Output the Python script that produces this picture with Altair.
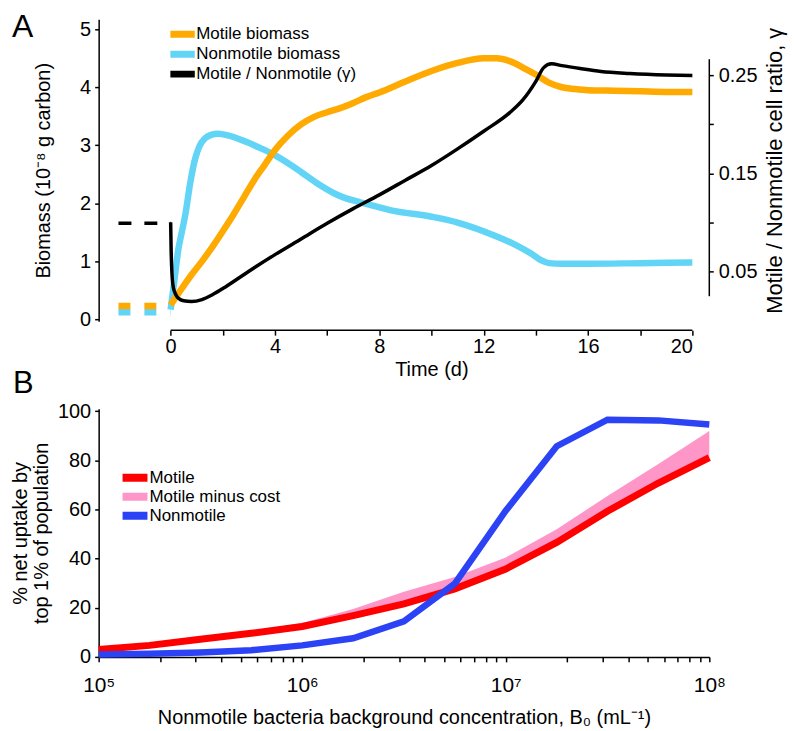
import altair as alt
import pandas as pd

FONT = "Liberation Sans"

# ---------------- Panel A data ----------------
t_motile = [0.0, 0.25, 0.5, 0.8, 1.2, 1.6, 2.0, 2.4, 2.8, 3.2, 3.6, 4.0, 4.5, 5.0, 5.5, 6.0, 6.5, 7.0,
            7.5, 8.0, 9.0, 10.0, 11.0, 12.0, 12.5, 13.0, 13.5, 14.0, 14.5, 15.0, 15.5, 16.0, 17.0, 18.0,
            19.0, 20.0]
motile = [0.25, 0.42, 0.58, 0.77, 1.0, 1.25, 1.52, 1.80, 2.10, 2.40, 2.66, 2.92, 3.17, 3.36, 3.49, 3.57,
          3.64, 3.73, 3.83, 3.91, 4.10, 4.28, 4.42, 4.50, 4.50, 4.45, 4.34, 4.22, 4.08, 4.00, 3.97, 3.95,
          3.94, 3.93, 3.92, 3.92]

t_nonmotile = [0.0, 0.15, 0.3, 0.43, 0.56, 0.75, 0.94, 1.1, 1.32, 1.55, 1.83, 2.2, 2.72, 3.3, 3.87, 4.4,
               5.0, 5.6, 6.28, 6.7, 7.18, 8.45, 10.0, 11.0, 12.5, 13.2, 13.8, 14.2, 14.5, 15.0, 16.0,
               18.0, 20.0]
nonmotile = [0.17, 0.7, 1.22, 1.51, 1.80, 2.35, 2.77, 2.98, 3.12, 3.18, 3.20, 3.17, 3.09, 2.98, 2.86,
             2.72, 2.54, 2.35, 2.17, 2.09, 2.03, 1.88, 1.77, 1.67, 1.43, 1.29, 1.14, 1.02, 0.97, 0.96,
             0.96, 0.97, 0.98]

t_ratio = [0.0, 0.02, 0.05, 0.1, 0.2, 0.3, 0.5, 0.8, 1.2, 1.6, 2.1, 3.0, 4.0, 5.0, 6.0, 7.0, 8.0, 9.0,
           10.0, 11.0, 12.0, 13.0, 13.5, 14.0, 14.3, 14.6, 15.0, 15.7, 16.5, 17.6, 19.0, 20.0]
ratio = [0.100, 0.07, 0.048, 0.034, 0.026, 0.0224, 0.0198, 0.019, 0.021, 0.026, 0.034, 0.050, 0.067,
         0.083, 0.099, 0.114, 0.128, 0.143, 0.158, 0.175, 0.193, 0.212, 0.225, 0.244, 0.258, 0.262,
         0.260, 0.257, 0.254, 0.252, 0.2505, 0.250]

# initial (pre-inoculation) dashed levels
t_pre = [-2.0, 0.0]
motile_pre = [0.23, 0.23]
nonmotile_pre = [0.125, 0.125]
ratio_pre = [0.099, 0.099]

names_A = ["Motile biomass", "Nonmotile biomass", "Motile / Nonmotile (γ)"]
colors_A = ["#FFAA00", "#62D5F6", "#000000"]

time_ticks = [0, 2, 4, 6, 8, 10, 12, 14, 16, 18, 20]
time_axis_span = [0.0, 20.0]
biomass_ticks = [0, 1, 2, 3, 4, 5]
ratio_ticks = [0.05, 0.10, 0.15, 0.20, 0.25]
ratio_axis_span = [0.0245, 0.2666]

# ---------------- Panel B data ----------------
B0 = [1.0e5, 1.78e5, 3.16e5, 5.62e5, 1.0e6, 1.78e6, 3.16e6, 5.62e6, 1.0e7, 1.78e7, 3.16e7, 5.62e7, 1.0e8]
uptake_motile = [3.0, 4.7, 7.2, 9.6, 12.4, 16.8, 21.6, 27.7, 35.8, 46.6, 59.3, 70.8, 81.1]
uptake_motile_cost = [3.5, 5.0, 7.6, 10.5, 13.8, 19.5, 26.5, 32.5, 40.5, 52.0, 65.5, 78.5, 92.0]
uptake_nonmotile = [1.0, 1.3, 1.8, 2.7, 4.7, 7.6, 14.5, 29.8, 59.5, 85.8, 96.6, 96.3, 94.6]

names_B = ["Motile", "Motile minus cost", "Nonmotile"]
colors_B = ["#FF0000", "#FF96C8", "#2B42F5"]

b0_ticks = [1e5, 2e5, 3e5, 4e5, 5e5, 6e5, 7e5, 8e5, 9e5,
            1e6, 2e6, 3e6, 4e6, 5e6, 6e6, 7e6, 8e6, 9e6,
            1e7, 2e7, 3e7, 4e7, 5e7, 6e7, 7e7, 8e7, 9e7, 1e8]
uptake_ticks = [0, 20, 40, 60, 80, 100]

# ---------------- Layout sizes ----------------
WA, HA = 596, 303
WB, HB = 613, 249

# ---------------- Panel A ----------------
df_mot = pd.DataFrame({"t": t_motile, "v": motile, "s": names_A[0]})
df_non = pd.DataFrame({"t": t_nonmotile, "v": nonmotile, "s": names_A[1]})
df_rat = pd.DataFrame({"t": t_ratio, "v": ratio, "s": names_A[2]})
df_mot_pre = pd.DataFrame({"t": t_pre, "v": motile_pre})
df_non_pre = pd.DataFrame({"t": t_pre, "v": nonmotile_pre})
df_rat_pre = pd.DataFrame({"t": t_pre, "v": ratio_pre})
df_xspan = pd.DataFrame({"t": [time_axis_span[0]], "t2": [time_axis_span[1]]})
df_rspan = pd.DataFrame({"lo": [ratio_axis_span[0]], "hi": [ratio_axis_span[1]]})
df_one = pd.DataFrame({"k": [0]})

x_scale_A = alt.Scale(domain=[-2.76, 20], nice=False, zero=False)
x_axis_A = alt.Axis(values=time_ticks, labelExpr="datum.value % 4 == 0 ? datum.label : ''",
                    domain=False, offset=9, tickSize=5, tickWidth=1.5, tickColor="black",
                    labelFontSize=20, labelPadding=1, labelColor="black",
                    title="Time (d)", titleFontSize=20, titleFontWeight="normal", titleX=334,
                    titlePadding=4, titleColor="black", grid=False)


def XA(field):
    return alt.X(field, type="quantitative", scale=x_scale_A, axis=x_axis_A)


y_scale_bio = alt.Scale(domain=[-0.03, 5.17], nice=False, zero=False)
y_axis_bio = alt.Axis(values=biomass_ticks, tickSize=4, tickWidth=1.5, tickColor="black",
                      domainColor="black", domainWidth=1.5, labelFontSize=20, labelPadding=4,
                      labelColor="black", title="Biomass (10⁻⁸ g carbon)", titleFontSize=20,
                      titleFontWeight="normal", titlePadding=26, titleColor="black", grid=False)


def YB(field):
    return alt.Y(field, type="quantitative", scale=y_scale_bio, axis=y_axis_bio)


y_scale_rat = alt.Scale(domain=[-0.001, 0.3073], nice=False, zero=False)
y_axis_rat = alt.Axis(orient="right", values=ratio_ticks,
                      labelExpr="indexof(['0.05','0.15','0.25'], format(datum.value, '.2f')) >= 0 ? format(datum.value, '.2f') : ''",
                      domain=False, offset=17, tickSize=4, tickWidth=1.5, tickColor="black",
                      labelFontSize=20, labelPadding=5, labelColor="black",
                      title="Motile / Nonmotile cell ratio, γ", titleFontSize=22, titleFontWeight="normal",
                      titleAngle=270, titleBaseline="top", titlePadding=8, titleColor="black", grid=False)


def YR(field):
    return alt.Y(field, type="quantitative", scale=y_scale_rat, axis=y_axis_rat)


color_A = alt.Color("s:N", scale=alt.Scale(domain=names_A, range=colors_A),
                    legend=alt.Legend(orient="none", legendX=72, legendY=5, title=None,
                                      symbolType="M-2,0H2", symbolSize=196, symbolStrokeWidth=7,
                                      labelFontSize=17, labelFont=FONT, labelColor="black",
                                      labelLimit=0, labelOffset=5, rowPadding=0, clipHeight=20,
                                      padding=0))

pre_non_line = alt.Chart(df_non_pre).mark_line(strokeWidth=6.5, strokeDash=[12, 14], strokeCap="butt").encode(
    x=XA("t"), y=YB("v"), color=alt.value(colors_A[1]))
pre_mot_line = alt.Chart(df_mot_pre).mark_line(strokeWidth=6.5, strokeDash=[12, 14], strokeCap="butt").encode(
    x=XA("t"), y=YB("v"), color=alt.value(colors_A[0]))
non_line = alt.Chart(df_non).mark_line(strokeWidth=6.5, interpolate="monotone").encode(
    x=XA("t"), y=YB("v"), color=color_A)
mot_line = alt.Chart(df_mot).mark_line(strokeWidth=6.5, interpolate="monotone").encode(
    x=XA("t"), y=YB("v"), color=color_A)
x_rule = alt.Chart(df_xspan).mark_rule(color="black", strokeWidth=1.5).encode(
    x=XA("t"), x2="t2", y=alt.value(HA + 9))
letter_A = alt.Chart(df_one).mark_text(text="A", fontSize=32, font=FONT, align="left",
                                       baseline="alphabetic", color="black").encode(
    x=alt.value(-87), y=alt.value(18))

bio_layer = alt.layer(pre_non_line, pre_mot_line, non_line, mot_line, x_rule, letter_A)

pre_rat_line = alt.Chart(df_rat_pre).mark_line(strokeWidth=3.5, strokeDash=[13, 13], strokeCap="butt").encode(
    x=XA("t"), y=YR("v"), color=alt.value(colors_A[2]))
rat_line = alt.Chart(df_rat).mark_line(strokeWidth=3.5, interpolate="monotone").encode(
    x=XA("t"), y=YR("v"), color=color_A)
r_rule = alt.Chart(df_rspan).mark_rule(color="black", strokeWidth=1.5).encode(
    x=alt.value(WA + 17), y=YR("lo"), y2="hi")

ratio_layer = alt.layer(pre_rat_line, rat_line, r_rule)

panelA = alt.layer(bio_layer, ratio_layer).resolve_scale(y="independent").properties(width=WA, height=HA)

# ---------------- Panel B ----------------
df_red = pd.DataFrame({"x": B0, "y": uptake_motile, "g": names_B[0]})
df_pink = pd.DataFrame({"x": B0, "y": uptake_motile_cost, "y2": uptake_motile, "g": names_B[1]})
df_blue = pd.DataFrame({"x": B0, "y": uptake_nonmotile, "g": names_B[2]})

x_scale_B = alt.Scale(type="log", domain=[1e5, 1e8], nice=False)
x_axis_B = alt.Axis(values=b0_ticks,
                    labelExpr="datum.value == 100000 ? '10⁵' : datum.value == 1000000 ? '10⁶' : datum.value == 10000000 ? '10⁷' : datum.value == 100000000 ? '10⁸' : ''",
                    tickSize=5, tickWidth=1.5, tickColor="black", domainColor="black", domainWidth=1.5,
                    labelFontSize=21, labelPadding=13, labelColor="black", labelFlush=False,
                    title="Nonmotile bacteria background concentration, B₀ (mL⁻¹)", titleFontSize=20,
                    titleFontWeight="normal", titlePadding=12, titleColor="black", grid=False)


def XBx(field):
    return alt.X(field, type="quantitative", scale=x_scale_B, axis=x_axis_B)


y_scale_B = alt.Scale(domain=[0, 101], nice=False)
y_axis_B = alt.Axis(values=uptake_ticks, tickSize=4, tickWidth=1.5, tickColor="black",
                    domainColor="black", domainWidth=1.5, labelFontSize=20, labelPadding=4,
                    labelColor="black", title=["% net uptake by", "top 1% of population"],
                    titleFontSize=20, titleFontWeight="normal", titleLineHeight=21, titlePadding=6,
                    titleColor="black", grid=False)


def YBy(field):
    return alt.Y(field, type="quantitative", scale=y_scale_B, axis=y_axis_B)


color_B = alt.Color("g:N", scale=alt.Scale(domain=names_B, range=colors_B),
                    legend=alt.Legend(orient="none", legendX=24, legendY=60, title=None,
                                      symbolType="M-2,0H2", symbolSize=196, symbolStrokeWidth=8,
                                      labelFontSize=17, labelFont=FONT, labelColor="black",
                                      labelLimit=0, labelOffset=5, rowPadding=0, clipHeight=18.5,
                                      padding=0))

pink_area = alt.Chart(df_pink).mark_area(opacity=1).encode(
    x=XBx("x"), y=YBy("y"), y2="y2", color=color_B)
red_line = alt.Chart(df_red).mark_line(strokeWidth=7).encode(
    x=XBx("x"), y=YBy("y"), color=color_B)
blue_line = alt.Chart(df_blue).mark_line(strokeWidth=6.5).encode(
    x=XBx("x"), y=YBy("y"), color=color_B)
letter_B = alt.Chart(df_one).mark_text(text="B", fontSize=31, font=FONT, align="left",
                                       baseline="alphabetic", color="black").encode(
    x=alt.value(-86), y=alt.value(-16))

panelB = alt.layer(pink_area, red_line, blue_line, letter_B).properties(width=WB, height=HB)

chart = alt.vconcat(panelA, panelB, spacing=88, bounds="flush").resolve_scale(
    color="independent").resolve_legend(color="independent").properties(
    padding={"left": 2, "top": 2, "right": 2, "bottom": 2}
).configure(font=FONT).configure_view(stroke=None)

chart.save("out.html", embed_options={"renderer": "svg", "actions": False})
